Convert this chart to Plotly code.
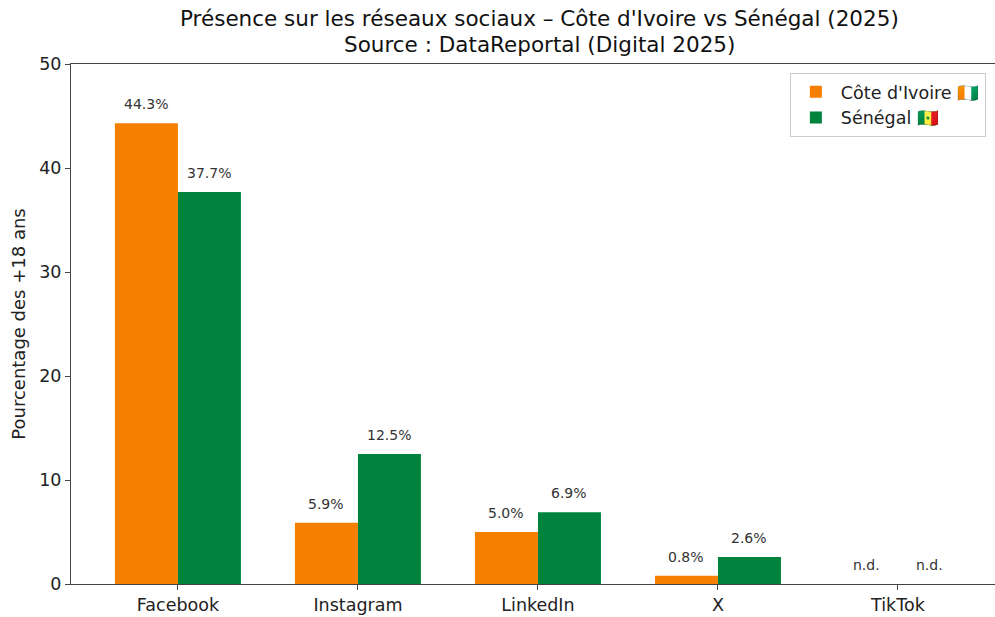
import plotly.graph_objects as go

platforms = ["Facebook", "Instagram", "LinkedIn", "X", "TikTok"]
civ_values = [44.3, 5.9, 5.0, 0.8, None]
sen_values = [37.7, 12.5, 6.9, 2.6, None]
series_names = ["Côte d'Ivoire 🇨🇮", "Sénégal 🇸🇳"]
y_ticks = [0, 10, 20, 30, 40, 50]
title_lines = ["Présence sur les réseaux sociaux – Côte d'Ivoire vs Sénégal (2025)",
               "Source : DataReportal (Digital 2025)"]

ORANGE = "#F77F00"
GREEN = "#00843D"
BAR_W = 0.35
FONT = "DejaVu Sans"

xs = list(range(len(platforms)))

fig = go.Figure()
fig.add_trace(go.Bar(x=[i - BAR_W / 2 for i in xs], y=civ_values, width=BAR_W,
                     name=series_names[0], marker=dict(color=ORANGE, line=dict(width=0))))
fig.add_trace(go.Bar(x=[i + BAR_W / 2 for i in xs], y=sen_values, width=BAR_W,
                     name=series_names[1], marker=dict(color=GREEN, line=dict(width=0))))

annotations = []
for vals, off in ((civ_values, -BAR_W / 2), (sen_values, BAR_W / 2)):
    for i, v in enumerate(vals):
        txt = f"{v:.1f}%" if v is not None else "n.d."
        annotations.append(dict(x=i + off, y=v if v is not None else 0, xref="x", yref="y",
                                text=txt, showarrow=False, yanchor="bottom", yshift=9,
                                font=dict(family=FONT, size=14, color="#333333")))

for line, shift in zip(title_lines, (46, 20)):
    annotations.append(dict(text=line, xref="paper", yref="paper", x=0.5065, y=1,
                            yshift=shift, yanchor="middle", showarrow=False,
                            font=dict(family=FONT, size=21.5, color="#111111")))

fig.update_layout(
    width=995, height=617,
    margin=dict(l=71, r=0, t=64, b=33),
    paper_bgcolor="white", plot_bgcolor="white",
    barmode="overlay",
    font=dict(family=FONT, size=17.5, color="#222222"),
    showlegend=True,
    legend=dict(x=0.778, xanchor="left", y=0.983, yanchor="top",
                bordercolor="#cccccc", borderwidth=1, bgcolor="white",
                font=dict(family=FONT, size=17.5, color="#222222"),
                itemwidth=40, tracegroupgap=2),
    annotations=annotations,
)
fig.update_xaxes(range=[-0.594, 4.539], tickvals=xs, ticktext=platforms,
                 showline=True, linecolor="#444444", linewidth=1, mirror=True,
                 ticks="outside", ticklen=5, tickcolor="#444444",
                 showgrid=False, zeroline=False, tickfont=dict(size=17.5))
fig.update_yaxes(range=[0, 50], tickvals=y_ticks,
                 showline=True, linecolor="#444444", linewidth=1, mirror=False,
                 ticks="outside", ticklen=5, tickcolor="#444444",
                 showgrid=False, zeroline=False, tickfont=dict(size=17.5),
                 title=dict(text="Pourcentage des +18 ans", font=dict(size=18), standoff=8))

# remove the default 8px page margin so the 995x617 figure fills the window exactly
fig.write_html("out.html",
               config={"displayModeBar": False},
               post_script="document.body.style.margin='0';"
                           "document.body.style.overflow='hidden';"
                           "document.documentElement.style.overflow='hidden';")
